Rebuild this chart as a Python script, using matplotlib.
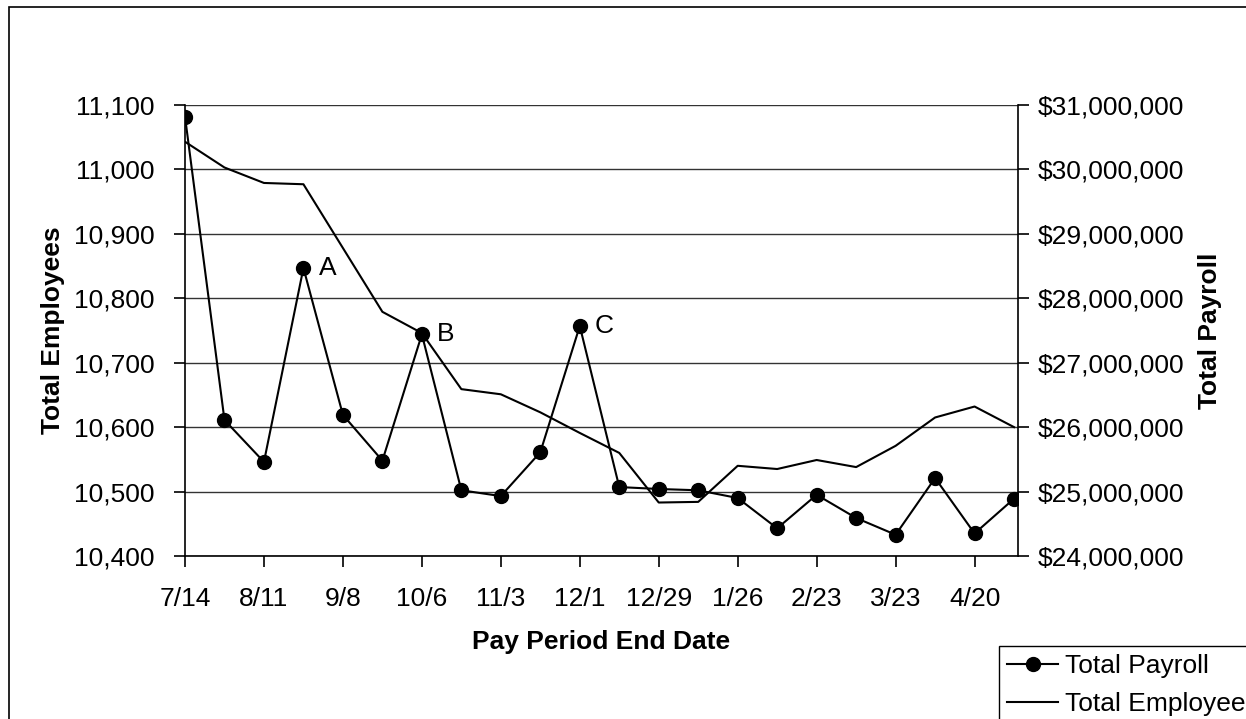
import matplotlib
matplotlib.use('Agg')
import matplotlib.pyplot as plt
from matplotlib.patches import Rectangle
from matplotlib.ticker import FuncFormatter

plt.rcParams['font.family'] = ['Liberation Sans', 'DejaVu Sans']

# pay period end dates (biweekly)
dates = ['7/14', '7/28', '8/11', '8/25', '9/8', '9/22', '10/6', '10/20', '11/3', '11/17', '12/1',
         '12/15', '12/29', '1/12', '1/26', '2/9', '2/23', '3/9', '3/23', '4/6', '4/20', '5/4']

total_employees = [11043, 11003, 10979, 10977, 10878, 10779, 10746, 10659, 10651, 10623, 10591,
                   10560, 10483, 10484, 10540, 10535, 10549, 10538, 10571, 10615, 10632, 10600]

total_payroll = [30820000, 26110000, 25460000, 28470000, 26190000, 25480000, 27440000, 25020000,
                 24930000, 25610000, 27570000, 25070000, 25040000, 25020000, 24900000, 24430000,
                 24950000, 24590000, 24330000, 25210000, 24350000, 24890000]

# callouts on the payroll peaks
callouts = {'A': '8/25', 'B': '10/6', 'C': '12/1'}

FS = 19
W, H = 1246, 719

fig = plt.figure(figsize=(W / 100, H / 100), dpi=100)
ax = fig.add_axes([185 / W, 1 - 556 / H, (1018 - 185) / W, (556 - 105) / H])
ax2 = ax.twinx()

x = list(range(len(dates)))

l_emp, = ax.plot(x, total_employees, color='black', linewidth=1.5, label='Total Employees')
l_pay, = ax2.plot(x, total_payroll, color='black', linewidth=1.5, marker='o', markersize=10,
                  label='Total Payroll')

for letter, d in callouts.items():
    i = dates.index(d)
    ax2.annotate(letter, (i, total_payroll[i]), xytext=(11, 0), textcoords='offset points',
                 ha='left', va='center', fontsize=FS)

# axes ranges and ticks
ax.set_xlim(0, 21.1)
ax.set_ylim(10400, 11100)
ax2.set_ylim(24000000, 31000000)
ax.set_yticks(range(10400, 11101, 100))
ax2.set_yticks(range(24000000, 31000001, 1000000))
ax.set_xticks(x[::2])
ax.set_xticklabels(dates[::2])

ax.yaxis.set_major_formatter(FuncFormatter(lambda v, p: f'{int(v):,}'))
ax2.yaxis.set_major_formatter(FuncFormatter(lambda v, p: f'${int(v):,}'))

for a in (ax, ax2):
    a.tick_params(direction='out', length=8, width=1.2, labelsize=FS, color='black')
    a.spines['top'].set_visible(False)
    for s in a.spines.values():
        s.set_linewidth(1.2)
ax.tick_params(axis='y', pad=14)
ax.tick_params(axis='x', pad=14)
ax2.tick_params(axis='y', pad=6)
ax.spines['right'].set_visible(False)
ax2.spines['left'].set_visible(False)
ax2.spines['bottom'].set_visible(False)

ax.yaxis.grid(True, color='#333333', linewidth=1)
ax.set_axisbelow(True)

ax.set_xlabel('Pay Period End Date', fontsize=FS, fontweight='bold', labelpad=14)
ax.set_ylabel('Total Employees', fontsize=FS, fontweight='bold', labelpad=6)
ax2.set_ylabel('Total Payroll', fontsize=FS, fontweight='bold', labelpad=10)

# legend in the bottom right corner, runs off the page like the original
leg = fig.legend([l_pay, l_emp], ['Total Payroll', 'Total Employees'], loc='upper left',
                 bbox_to_anchor=(999 / W, 1 - 646 / H), fontsize=FS, frameon=True,
                 fancybox=False, framealpha=1, edgecolor='black', borderpad=0.3,
                 handlelength=1.95, handletextpad=0.25, labelspacing=0.55, borderaxespad=0)
leg.get_frame().set_linewidth(1)

# outer chart border
fig.patches.append(Rectangle((9 / W, -0.1), 2, 1.1 - 7 / H, transform=fig.transFigure,
                             fill=False, edgecolor='black', linewidth=1.2))

fig.savefig('out.png', dpi=100)
